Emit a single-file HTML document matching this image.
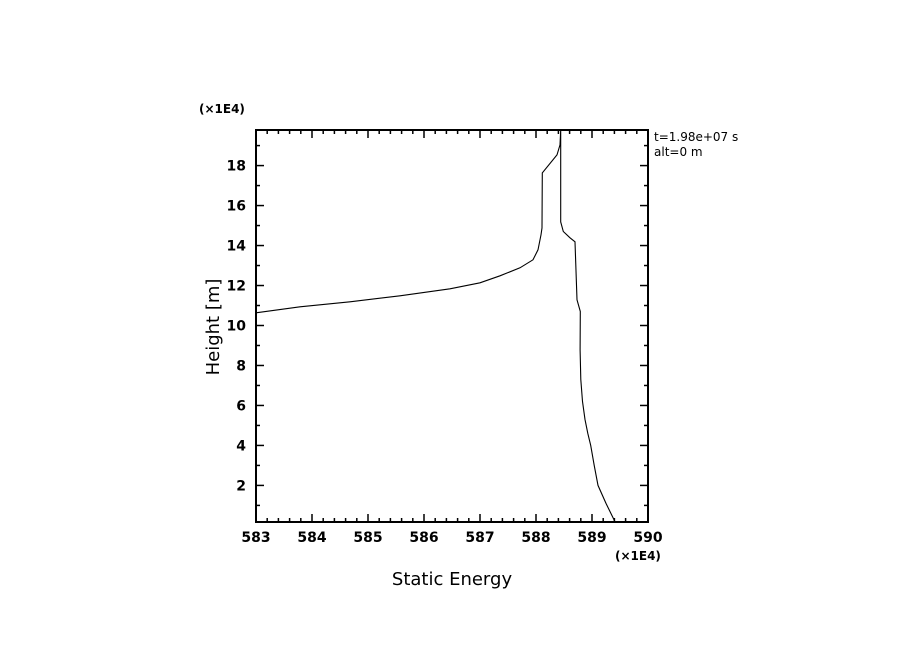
<!DOCTYPE html>
<html><head><meta charset="utf-8"><style>
body{margin:0;background:#fff;}
svg text{font-family:"DejaVu Sans","Liberation Sans",sans-serif;fill:#000;}
</style></head><body>
<svg width="904" height="654">
<g id="axes"></g>
<path id="curve" fill="none" stroke="#000" stroke-width="1.1"/>
<text x="199" y="113" font-size="12" font-weight="bold">(×1E4)</text>
<text x="615" y="560" font-size="12" font-weight="bold">(×1E4)</text>
<text x="452" y="585" font-size="18" text-anchor="middle">Static Energy</text>
<text transform="translate(219,327) rotate(-90)" font-size="18" text-anchor="middle">Height [m]</text>
<text x="654" y="141" font-size="12">t=1.98e+07 s</text>
<text x="654" y="156" font-size="12">alt=0 m</text>
</svg>
<script>
const xTicks=[583,584,585,586,587,588,589,590];
const yTicks=[2,4,6,8,10,12,14,16,18];
const energy=[583,583.786,584.679,585.571,586.464,587.0,587.357,587.714,587.946,588.036,588.089,588.107,588.113,588.375,588.429,588.441,588.441,588.488,588.607,588.696,588.732,588.791,588.788,588.80,588.83,588.875,588.925,588.977,589.04,589.107,589.25,589.41];
const height=[10.635,10.935,11.185,11.485,11.835,12.135,12.485,12.885,13.285,13.785,14.535,14.885,17.635,18.535,19.035,19.785,15.185,14.7,14.385,14.185,11.285,10.7,8.785,7.3,6.2,5.3,4.6,4.0,3.0,2.0,1.1,0.185];
const L=256,R=648,T=130,B=522;
const xMin=583,xMax=590,yMin=0.17,yMax=19.78;
const X=v=>L+(v-xMin)/(xMax-xMin)*(R-L);
const Y=v=>B-(v-yMin)/(yMax-yMin)*(B-T);
const ns="http://www.w3.org/2000/svg";
const g=document.getElementById('axes');
function add(tag,attrs){const e=document.createElementNS(ns,tag);for(const k in attrs)e.setAttribute(k,attrs[k]);g.appendChild(e);return e;}
const fr=add('rect',{x:L,y:T,width:R-L,height:B-T,fill:'none',stroke:'#000','stroke-width':2});


for(let v=xMin;v<=xMax+1e-9;v+=0.2){const major=Math.abs(v-Math.round(v))<1e-6;const len=major?8:4;const x=X(v);
 const t1=add('line',{x1:x,x2:x,y1:B,y2:B-len,stroke:'#000','stroke-width':1.5});
 const t2=add('line',{x1:x,x2:x,y1:T,y2:T+len,stroke:'#000','stroke-width':1.5});}
xTicks.forEach(v=>{const t=add('text',{x:X(v),y:B+20,'font-size':14,'font-weight':'bold','text-anchor':'middle'});t.textContent=v;});
for(let v=1;v<=19;v++){const major=v%2===0;const len=major?8:4;const y=Y(v);
 const t1=add('line',{x1:L,x2:L+len,y1:y,y2:y,stroke:'#000','stroke-width':1.5});
 const t2=add('line',{x1:R,x2:R-len,y1:y,y2:y,stroke:'#000','stroke-width':1.5});}
yTicks.forEach(v=>{const t=add('text',{x:L-10,y:Y(v)+5,'font-size':14,'font-weight':'bold','text-anchor':'end'});t.textContent=v;});
document.getElementById('curve').setAttribute('d',energy.map((e,i)=>(i?'L':'M')+X(e).toFixed(1)+','+Y(height[i]).toFixed(1)).join(''));
</script>
</body></html>
